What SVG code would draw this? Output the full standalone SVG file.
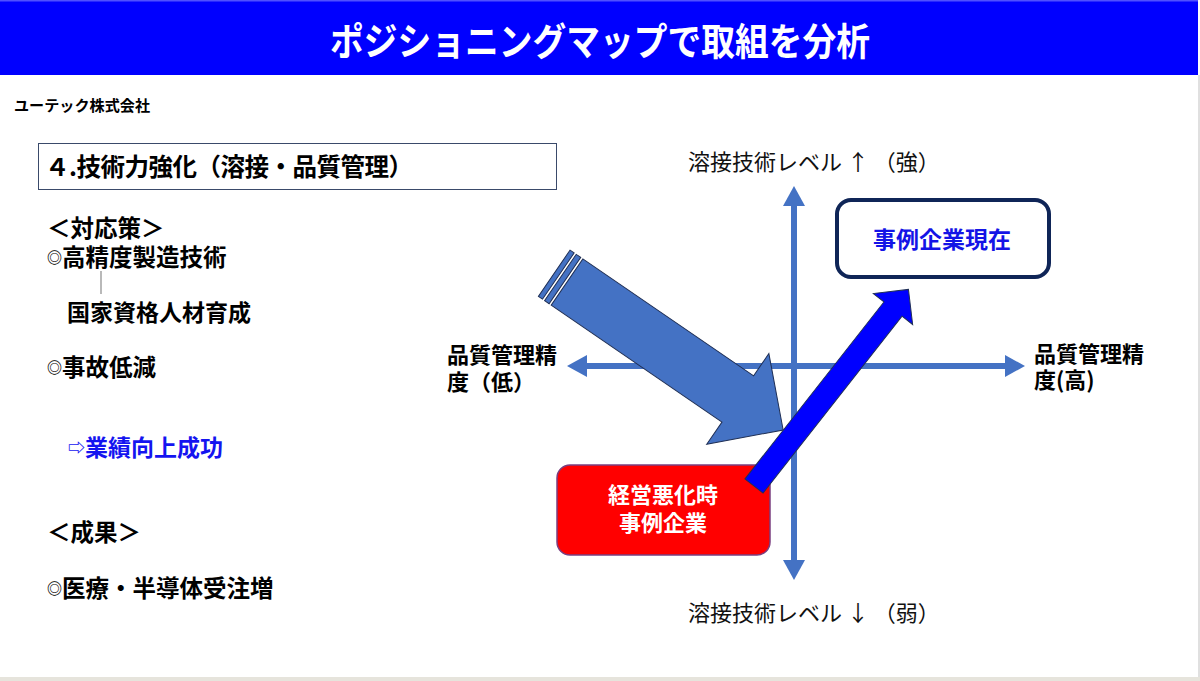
<svg xmlns="http://www.w3.org/2000/svg" width="1200" height="681" viewBox="0 0 1200 681">
<defs>
<style>
.t{font-family:"Noto Sans CJK JP","Noto Sans",sans-serif;font-weight:bold;fill:#000}
.r{font-family:"Noto Sans CJK JP","Noto Sans",sans-serif;font-weight:normal;fill:#111}
.axis{stroke:#4472C4;stroke-width:6;fill:none}
.arrowline{stroke:#1F2F55;stroke-width:1;stroke-linejoin:miter}
</style>
<marker id="ah" markerUnits="userSpaceOnUse" markerWidth="20" markerHeight="22" refX="0" refY="11" orient="auto-start-reverse" viewBox="0 0 20 22">
<path d="M0,0 L20,11 L0,22 Z" fill="#4472C4"/>
</marker>
</defs>
<rect x="0" y="0" width="1200" height="681" fill="#FFFFFF"/>
<g id="titlebar">
<rect x="0" y="0" width="1198" height="75" fill="#0000FF"/>
<rect x="0" y="0" width="1198" height="1.5" fill="#5050FF"/>
<text x="600" y="55" text-anchor="middle" class="t" style="fill:#FFFFFF" font-size="38" textLength="540" lengthAdjust="spacingAndGlyphs">ポジショニングマップで取組を分析</text>
</g>
<line x1="1199" y1="75" x2="1199" y2="677" stroke="#D6D6D6" stroke-width="1.5"/>
<rect x="0" y="677" width="1200" height="4" fill="#E6E4DC"/>
<text x="14" y="111" class="t" font-size="15" textLength="136" lengthAdjust="spacingAndGlyphs">ユーテック株式会社</text>

<g id="heading">
<rect x="38.5" y="143.5" width="518" height="46" fill="#FFFFFF" stroke="#3A4A6A" stroke-width="1"/>
<text x="45" y="176" class="t" font-size="24.5" textLength="368" lengthAdjust="spacing">４.技術力強化（溶接・品質管理）</text>
</g>

<g id="left-text">
<text x="47" y="237" class="t" font-size="23.5">＜対応策＞</text>
<text x="47" y="266" class="t" font-size="23.5"><tspan font-size="15" dy="-3">◎</tspan><tspan dy="3">高精度製造技術</tspan></text>
<line x1="101" y1="271" x2="101" y2="294" stroke="#8A8A8A" stroke-width="1.2"/>
<text x="67" y="321" class="t" font-size="23">国家資格人材育成</text>
<text x="47" y="376" class="t" font-size="23.5"><tspan font-size="15" dy="-3">◎</tspan><tspan dy="3">事故低減</tspan></text>
<text x="68" y="456" class="t" font-size="23" style="fill:#1414F0"><tspan font-size="17" dy="-2">⇨</tspan><tspan dy="2">業績向上成功</tspan></text>
<text x="47" y="541" class="t" font-size="23.5">＜成果＞</text>
<text x="47" y="597" class="t" font-size="23.5"><tspan font-size="15" dy="-3">◎</tspan><tspan dy="3">医療・半導体受注増</tspan></text>
</g>

<g id="axes">
<line x1="794" y1="560" x2="794" y2="206" class="axis" marker-start="url(#ah)" marker-end="url(#ah)"/>
<line x1="587" y1="366" x2="1005" y2="366" class="axis" marker-start="url(#ah)" marker-end="url(#ah)"/>
</g>

<g id="axis-labels">
<text x="688" y="170" class="r" font-size="22">溶接技術レベル ↑ （強）</text>
<text x="688" y="621" class="r" font-size="22">溶接技術レベル ↓ （弱）</text>
<text x="447" y="363" class="t" font-size="22">品質管理精</text>
<text x="447" y="390" class="t" font-size="22">度（低）</text>
<text x="1034" y="362" class="t" font-size="22">品質管理精</text>
<text x="1034" y="388" class="t" font-size="22">度(高)</text>
</g>

<g id="connectors">
<g id="big-arrow" transform="translate(567,282) rotate(34.4)">
<rect x="-15.5" y="-28" width="5" height="56" fill="#4472C4" class="arrowline"/>
<rect x="-8" y="-28" width="5.5" height="56" fill="#4472C4" class="arrowline"/>
<path d="M0,-28 L207,-28 L207,-55 L262,0 L207,55 L207,28 L0,28 Z" fill="#4472C4" class="arrowline"/>
</g>
</g>

<g id="node-red">
<rect x="557" y="465" width="213" height="90" rx="13" fill="#FF0000" stroke="#7A3F80" stroke-width="1.5"/>
<text x="663" y="503" text-anchor="middle" class="t" style="fill:#FFFFFF" font-size="22">経営悪化時</text>
<text x="663" y="531" text-anchor="middle" class="t" style="fill:#FFFFFF" font-size="22">事例企業</text>
</g>

<g id="connector-blue">
<g transform="translate(754,486) rotate(-51.85)">
<path d="M0,-11.5 L225,-11.5 L225,-25 L250,0 L225,25 L225,11.5 L0,11.5 Z" fill="#0000FF" class="arrowline"/>
</g>
</g>

<g id="node-current">
<rect x="837" y="200" width="212" height="77" rx="14" fill="#FFFFFF" stroke="#0F2557" stroke-width="4"/>
<text x="942" y="248" text-anchor="middle" class="t" style="fill:#1414E6" font-size="23">事例企業現在</text>
</g>
</svg>
